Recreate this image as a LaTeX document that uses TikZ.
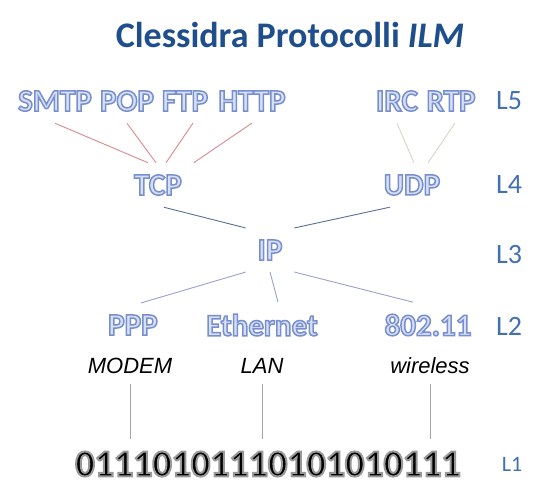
\documentclass[tikz,border=0pt]{standalone}
\usepackage{fontspec}
\setmainfont{Carlito}
\newfontfamily\mediafont{Liberation Sans}
\usetikzlibrary{positioning}
\definecolor{titleblue}{HTML}{1F4E8C}
\definecolor{layerblue}{HTML}{4270B3}
\definecolor{protofill}{HTML}{D8E0F6}
\definecolor{applink}{HTML}{D98A90}
\definecolor{udplink}{HTML}{D8D4C4}
\definecolor{iplink}{HTML}{5C6E98}
\definecolor{netlink}{HTML}{9AA2CC}
\tikzset{x=1pt, y=-1pt,
proto/.style={
font=\bfseries\fontsize{31}{31}\selectfont,
text=protofill,
inner sep=0pt,
outer sep=12pt},
layer/.style={
font=\fontsize{28}{28}\selectfont,
text=layerblue,
inner sep=0pt},
media/.style={
font=\mediafont\itshape\fontsize{22}{22}\selectfont,
inner sep=0pt,
outer sep=10pt},
every edge/.style={
draw,
line width=0.9pt}}
% lettere vuote: riempimento chiaro e bordo blu
\newcommand{\proto}[1]{\special{pdf:literal 2 Tr 1.5 w 0.47 0.56 0.81 RG}#1\special{pdf:literal 0 Tr 0.4 w}}
\newcommand{\bitstream}[1]{\special{pdf:literal 2 Tr 2 w 0.6 0.6 0.6 RG}#1\special{pdf:literal 0 Tr 0.4 w}}

\begin{document}
\begin{tikzpicture}
\fill[white] (0,0) rectangle (541,486);
\useasboundingbox (0,0) rectangle (541,486);
\node[font=\bfseries\fontsize{36}{36}\selectfont, text=titleblue] (title) at (290,35) {Clessidra Protocolli \textit{ILM}};
% livello 5
\node[proto] (smtp) at (55,101) {\proto{SMTP}};
\node[proto, right of=smtp, node distance=72pt] (pop) {\proto{POP}};
\node[proto, right of=pop, node distance=58pt] (ftp) {\proto{FTP}};
\node[proto, right of=ftp, node distance=67pt] (http) {\proto{HTTP}};
\node[proto] (irc) at (397,101) {\proto{IRC}};
\node[proto, right of=irc, node distance=54pt] (rtp) {\proto{RTP}};
% livelli 4 e 3
\node[proto] (tcp) at (158,185) {\proto{TCP}};
\node[proto] (udp) at (412,185) {\proto{UDP}};
\node[proto] (ip) at (270,250) {\proto{IP}};
% livello 2
\node[proto] (ppp) at (133,325) {\proto{PPP}};
\node[proto] (ethernet) at (262,325) {\proto{Ethernet}};
\node[proto] (wlan) at (428,325) {\proto{802.11}};
\node[media, below of=ppp, node distance=41pt, xshift=-3pt] (modem) {MODEM};
\node[media, below of=ethernet, node distance=41pt] (lan) {LAN};
\node[media, below of=wlan, node distance=41pt, xshift=2pt] (wireless) {wireless};
% livello 1
\node[font=\bfseries\fontsize{38}{38}\selectfont, inner sep=0pt, outer sep=12pt] (bits) at (268,464)
{\bitstream{01110101110101010111}};
% etichette dei livelli
\node[layer] (l5) at (509,101) {L5};
\node[layer] (l4) at (509,185) {L4};
\node[layer] (l3) at (509,255) {L3};
\node[layer] (l2) at (509,326) {L2};
\node[layer, font=\fontsize{22}{22}\selectfont] (l1) at (512,464) {L1};
% collegamenti
\draw (smtp.south) edge[applink] ([xshift=-10pt]tcp.north);
\draw (pop.south) edge[applink] ([xshift=-2pt]tcp.north);
\draw ([xshift=8pt]ftp.south) edge[applink] ([xshift=8pt]tcp.north);
\draw (http.south) edge[applink] (tcp.north east);
\draw (irc.south) edge[udplink] ([xshift=2pt]udp.north);
\draw ([xshift=4pt]rtp.south) edge[udplink] ([xshift=16pt]udp.north);
\draw ([xshift=6pt]tcp.south) edge[iplink] (ip.north west);
\draw ([xshift=-22pt]udp.south) edge[iplink] (ip.north east);
\draw (ip.south west) edge[netlink] ([xshift=8pt]ppp.north);
\draw (ip.south) edge[netlink] ([xshift=16pt]ethernet.north);
\draw (ip.south east) edge[netlink] ([xshift=-15pt]wlan.north);
\draw (modem.south) edge[gray!70] (modem.south |- bits.north);
\draw (lan.south) edge[gray!70] (lan.south |- bits.north);
\draw (wireless.south) edge[gray!70] (wireless.south |- bits.north);
\end{tikzpicture}
\end{document}
